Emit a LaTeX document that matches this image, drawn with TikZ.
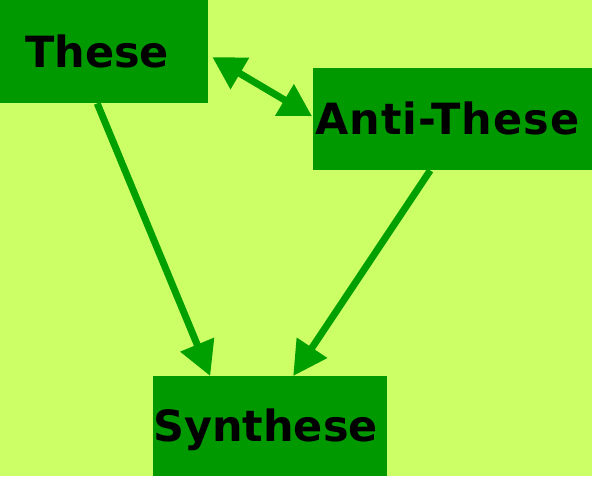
\documentclass[tikz,border=0pt]{standalone}
\usepackage{fontspec}
\setmainfont{DejaVu Sans}
\usetikzlibrary{arrows.meta}
\definecolor{bglime}{RGB}{204,255,102}
\definecolor{boxgreen}{RGB}{0,153,0}
\definecolor{arrgreen}{RGB}{0,160,0}
\tikzset{
  box/.style={fill=boxgreen, draw=none, rectangle, anchor=north west,
    inner ysep=0pt, text height=31.5pt, text depth=0pt, align=left,
    font=\fontsize{43}{43}\selectfont\bfseries, text=black},
  arr/.style={draw=arrgreen, line width=7pt,
    -{Triangle[length=34pt,width=35pt]}},
  dblarr/.style={draw=arrgreen, line width=7pt,
    {Triangle[length=32pt,width=35pt]}-{Triangle[length=32pt,width=35pt]}}
}
\begin{document}
\begin{tikzpicture}[x=1pt,y=-1pt]
\useasboundingbox[fill=white] (0,0) rectangle (596,480);
\fill[bglime] (0,0) rectangle (592,476);
\node[box, inner xsep=25pt, text width=158pt, minimum height=103pt] (these) at (0,0) {These};
\node[box, inner xsep=2pt, text width=275pt, minimum height=102pt] (anti) at (313,68) {\addfontfeature{LetterSpace=2.5}Anti-These};
\node[box, inner xsep=0pt, text width=234pt, minimum height=100pt] (syn) at (153,376) {Synthese};
\draw[arr] ([xshift=-7pt]these.south) -- ([xshift=-60pt]syn.north);
\draw[arr] ([xshift=-22.5pt]anti.south) -- ([xshift=23pt]syn.north);
\draw[dblarr] ([xshift=4pt,yshift=-5.5pt]these.east) -- ([xshift=-1pt,yshift=3pt]anti.west);
\end{tikzpicture}
\end{document}
